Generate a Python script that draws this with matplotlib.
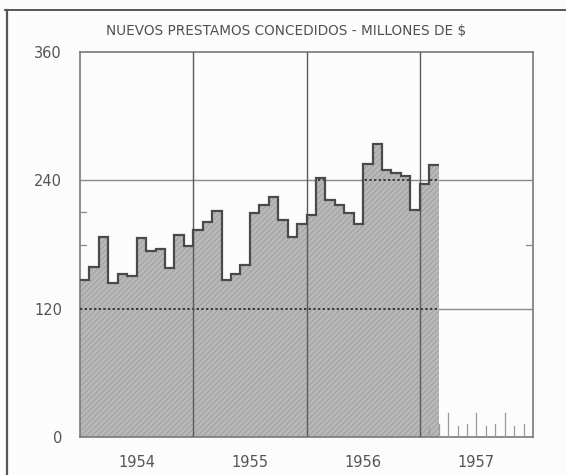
import numpy as np
import matplotlib
matplotlib.use("Agg")
import matplotlib.pyplot as plt
from matplotlib.lines import Line2D

# ---- data (monthly new loans, millions of $), Jan 1954 .. Feb 1957 ----
start_year = 1954
values_1954 = [147, 159, 187, 144, 152, 151, 186, 174, 176, 158, 189, 179]
values_1955 = [194, 201, 211, 147, 152, 161, 209, 217, 224, 203, 187, 199]
values_1956 = [208, 242, 222, 217, 209, 199, 255, 274, 250, 247, 244, 212]
values_1957 = [237, 254]
year_labels = ["1954", "1955", "1956", "1957"]
y_ticks = [0, 120, 240, 360]
title = "NUEVOS PRESTAMOS CONCEDIDOS - MILLONES DE $"

values = np.array(values_1954 + values_1955 + values_1956 + values_1957, float)
edges = start_year + np.arange(len(values) + 1) / 12.0

plt.rcParams['hatch.linewidth'] = 0.6
fig = plt.figure(figsize=(5.66, 4.75), dpi=100, facecolor='#fcfcfc')
ax = fig.add_axes([80/566, 1-437/475, (533-80)/566, (437-52)/475])
ax.set_facecolor('#fcfcfc')
x0, x1 = start_year, start_year + len(year_labels)
ax.set_xlim(x0, x1)
ax.set_ylim(0, 360)

grid_c = '#8a8a8a'
# horizontal grid (behind fill)
for yv in y_ticks[1:-1]:
    ax.axhline(yv, color=grid_c, lw=1.0, zorder=1)

# filled area
fill = ax.stairs(values, edges, fill=True, baseline=0, facecolor='#b8b8b8',
                 edgecolor='#9c9c9c', linewidth=0, hatch='//////', zorder=2)
# outline of steps
ax.stairs(values, edges, fill=False, baseline=None, color='#4a4a4a', lw=1.6, zorder=4)

# dotted grid over the fill, clipped to it
for yv in y_ticks[1:-1]:
    ln = ax.axhline(yv, color='#3a3a3a', lw=1.4, ls=(0, (1.2, 1.2)), zorder=3)
    ln.set_clip_path(fill)

# vertical year lines
for yr in range(x0 + 1, x1):
    ax.axvline(yr, color='#5a5a5a', lw=1.0, zorder=3)

# small inner ticks on the left and right edges
for yv in [180, 210]:
    ax.plot([x0, x0 + 0.05], [yv, yv], color='#8a8a8a', lw=0.9, zorder=3)
ax.plot([x1 - 0.06, x1], [180, 180], color='#8a8a8a', lw=0.9, zorder=3)

# month ticks in 1957 along the bottom
tick_h = [8, 12, 22, 10, 12, 22, 10, 12, 22, 10, 12]
for m, h in enumerate(tick_h, start=1):
    ax.plot([x1 - 1 + m / 12.0] * 2, [0, h], color='#9a9a9a', lw=0.9, zorder=3)

for s in ax.spines.values():
    s.set_color('#7a7a7a')
    s.set_linewidth(1.2)

ax.set_yticks(y_ticks)
ax.set_yticklabels([str(v) for v in y_ticks])
ax.set_xticks([x0 + i + 0.5 for i in range(len(year_labels))])
ax.set_xticklabels(year_labels)
ax.tick_params(length=0, labelsize=10.5, colors='#555555')
ax.tick_params(axis='x', pad=13)
ax.tick_params(axis='y', pad=13)

fig.text(286/566, 1 - 31/475, title, ha='center', va='center',
         fontsize=9.8, color='#505050')

# outer frame of the page
fig.add_artist(Line2D([5/566, 1.0], [1 - 10/475] * 2, color='#555555', lw=1.4))
fig.add_artist(Line2D([7/566] * 2, [0, 1 - 10/475], color='#555555', lw=1.6))

fig.savefig("out.png", dpi=100, facecolor=fig.get_facecolor())
